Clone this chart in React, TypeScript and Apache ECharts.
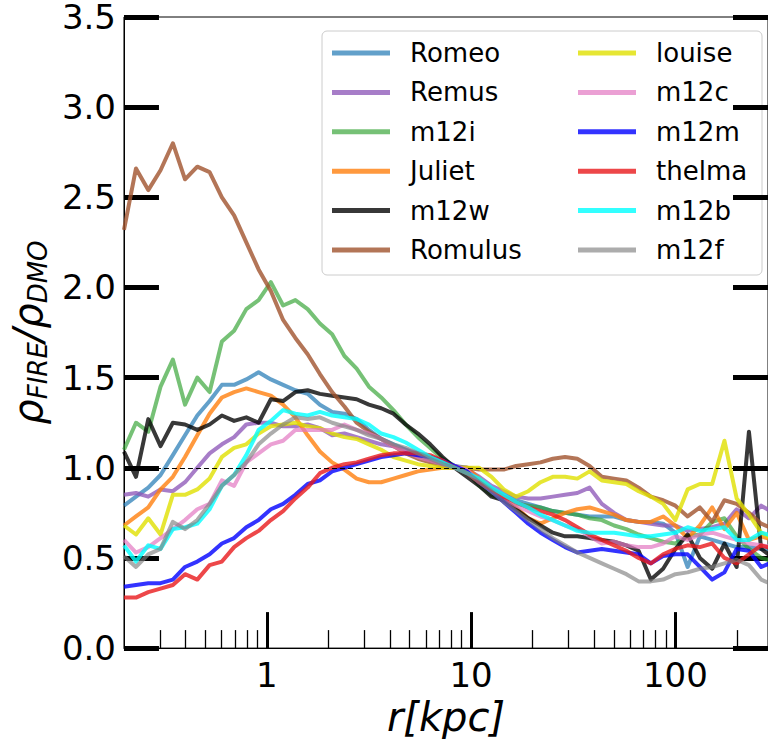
import React, { useEffect, useRef } from "react";
import * as echarts from "echarts";

// radius grid (kpc)
const R = [0.2, 0.229, 0.263, 0.302, 0.347, 0.398, 0.457, 0.525, 0.603, 0.692, 0.794, 0.912, 1.047, 1.202, 1.38, 1.585, 1.82, 2.089, 2.399, 2.754, 3.162, 3.631, 4.169, 4.786, 5.495, 6.31, 7.244, 8.318, 9.55, 10.96, 12.59, 14.45, 16.6, 19.05, 21.88, 25.12, 28.84, 33.11, 38.02, 43.65, 50.12, 57.54, 66.07, 75.86, 87.1, 100, 114.8, 131.8, 151.4, 173.8, 199.5, 229.1, 263, 302];

const ROMEO = [0.79, 0.84, 0.89, 0.96, 1.07, 1.18, 1.29, 1.37, 1.46, 1.46, 1.49, 1.53, 1.49, 1.46, 1.43, 1.41, 1.35, 1.31, 1.30, 1.27, 1.21, 1.16, 1.13, 1.10, 1.07, 1.04, 1.02, 1.01, 1.00, 0.93, 0.88, 0.85, 0.82, 0.80, 0.78, 0.76, 0.75, 0.74, 0.73, 0.73, 0.73, 0.71, 0.70, 0.70, 0.69, 0.64, 0.45, 0.62, 0.60, 0.58, 0.56, 0.56, 0.55, 0.55];
const REMUS = [0.85, 0.86, 0.84, 0.88, 0.87, 0.92, 1.00, 1.08, 1.13, 1.17, 1.24, 1.25, 1.25, 1.23, 1.23, 1.24, 1.22, 1.18, 1.19, 1.17, 1.15, 1.13, 1.12, 1.10, 1.08, 1.06, 1.04, 1.01, 0.99, 0.95, 0.90, 0.87, 0.84, 0.83, 0.83, 0.84, 0.85, 0.86, 0.89, 0.80, 0.75, 0.71, 0.70, 0.69, 0.68, 0.68, 0.65, 0.66, 0.67, 0.69, 0.77, 0.72, 0.79, 0.75];
const M12I = [1.10, 1.25, 1.20, 1.45, 1.60, 1.35, 1.50, 1.42, 1.70, 1.76, 1.88, 1.93, 2.03, 1.90, 1.93, 1.88, 1.80, 1.74, 1.62, 1.55, 1.45, 1.39, 1.32, 1.24, 1.17, 1.11, 1.05, 1.01, 0.98, 0.90, 0.85, 0.82, 0.80, 0.79, 0.78, 0.76, 0.75, 0.74, 0.72, 0.71, 0.68, 0.66, 0.63, 0.61, 0.59, 0.58, 0.62, 0.63, 0.70, 0.72, 0.62, 0.55, 0.50, 0.48];
const JULIET = [0.68, 0.73, 0.78, 0.88, 0.95, 1.06, 1.18, 1.30, 1.39, 1.42, 1.44, 1.42, 1.40, 1.35, 1.28, 1.18, 1.09, 1.03, 0.99, 0.94, 0.92, 0.92, 0.94, 0.96, 0.98, 0.99, 1.00, 1.00, 1.00, 0.94, 0.88, 0.83, 0.78, 0.72, 0.69, 0.72, 0.75, 0.77, 0.78, 0.76, 0.74, 0.71, 0.70, 0.70, 0.73, 0.68, 0.61, 0.68, 0.78, 0.66, 0.75, 0.60, 0.62, 0.60];
const M12W = [1.09, 0.95, 1.27, 1.12, 1.25, 1.24, 1.21, 1.24, 1.29, 1.26, 1.28, 1.25, 1.38, 1.37, 1.42, 1.43, 1.41, 1.40, 1.39, 1.38, 1.35, 1.33, 1.30, 1.24, 1.19, 1.13, 1.06, 1.00, 0.95, 0.90, 0.84, 0.82, 0.77, 0.72, 0.68, 0.64, 0.62, 0.62, 0.61, 0.60, 0.59, 0.57, 0.54, 0.38, 0.44, 0.55, 0.63, 0.50, 0.44, 0.58, 0.45, 1.20, 0.55, 0.50];
const ROMULUS = [2.32, 2.66, 2.54, 2.65, 2.80, 2.60, 2.67, 2.64, 2.50, 2.40, 2.25, 2.10, 1.98, 1.82, 1.72, 1.63, 1.52, 1.42, 1.34, 1.25, 1.20, 1.16, 1.12, 1.08, 1.05, 1.03, 1.01, 1.00, 1.00, 0.99, 0.99, 0.99, 1.01, 1.02, 1.03, 1.05, 1.06, 1.05, 1.01, 0.95, 0.94, 0.93, 0.89, 0.84, 0.82, 0.79, 0.73, 0.78, 0.70, 0.82, 0.80, 0.75, 0.69, 0.66];
const LOUISE = [0.68, 0.63, 0.72, 0.63, 0.85, 0.85, 0.88, 0.94, 1.06, 1.11, 1.13, 1.19, 1.23, 1.24, 1.25, 1.23, 1.22, 1.19, 1.17, 1.16, 1.13, 1.10, 1.06, 1.04, 1.02, 1.01, 1.00, 1.00, 1.00, 1.00, 0.95, 0.88, 0.84, 0.87, 0.92, 0.95, 0.95, 0.94, 0.98, 0.93, 0.92, 0.91, 0.87, 0.84, 0.80, 0.71, 0.88, 0.91, 0.91, 1.15, 0.83, 0.74, 0.64, 0.60];
const M12C = [0.60, 0.53, 0.56, 0.61, 0.66, 0.71, 0.77, 0.80, 0.93, 0.90, 1.03, 1.08, 1.13, 1.15, 1.21, 1.21, 1.21, 1.21, 1.24, 1.21, 1.19, 1.16, 1.12, 1.09, 1.06, 1.04, 1.02, 1.01, 0.99, 0.92, 0.87, 0.83, 0.79, 0.76, 0.73, 0.71, 0.68, 0.66, 0.62, 0.58, 0.59, 0.57, 0.56, 0.56, 0.58, 0.62, 0.60, 0.63, 0.64, 0.62, 0.60, 0.58, 0.57, 0.56];
const M12M = [0.34, 0.35, 0.36, 0.36, 0.38, 0.45, 0.48, 0.52, 0.58, 0.61, 0.67, 0.71, 0.77, 0.80, 0.85, 0.91, 0.93, 0.98, 1.00, 1.02, 1.04, 1.06, 1.07, 1.08, 1.07, 1.06, 1.04, 1.01, 0.98, 0.92, 0.87, 0.81, 0.75, 0.69, 0.64, 0.60, 0.56, 0.53, 0.54, 0.55, 0.54, 0.53, 0.52, 0.47, 0.51, 0.52, 0.52, 0.45, 0.38, 0.42, 0.55, 0.54, 0.45, 0.48];
const THELMA = [0.28, 0.28, 0.31, 0.33, 0.35, 0.41, 0.38, 0.46, 0.48, 0.56, 0.61, 0.65, 0.71, 0.76, 0.83, 0.89, 0.97, 1.00, 1.02, 1.03, 1.05, 1.07, 1.08, 1.08, 1.08, 1.07, 1.04, 1.00, 0.97, 0.92, 0.88, 0.84, 0.81, 0.78, 0.76, 0.74, 0.71, 0.67, 0.63, 0.60, 0.57, 0.54, 0.50, 0.47, 0.52, 0.55, 0.57, 0.56, 0.58, 0.50, 0.47, 0.52, 0.57, 0.55];
const M12B = [0.57, 0.48, 0.57, 0.55, 0.66, 0.67, 0.69, 0.77, 0.90, 0.96, 1.07, 1.21, 1.26, 1.32, 1.30, 1.29, 1.31, 1.29, 1.28, 1.27, 1.24, 1.19, 1.17, 1.14, 1.10, 1.06, 1.03, 1.00, 0.97, 0.94, 0.89, 0.85, 0.81, 0.78, 0.74, 0.71, 0.68, 0.65, 0.64, 0.64, 0.64, 0.63, 0.62, 0.62, 0.63, 0.64, 0.67, 0.65, 0.66, 0.67, 0.60, 0.60, 0.64, 0.62];
const M12F = [0.51, 0.45, 0.52, 0.55, 0.70, 0.66, 0.71, 0.80, 0.90, 0.96, 1.03, 1.13, 1.19, 1.24, 1.28, 1.27, 1.28, 1.25, 1.23, 1.21, 1.18, 1.16, 1.13, 1.11, 1.08, 1.05, 1.02, 1.00, 0.97, 0.92, 0.87, 0.81, 0.76, 0.71, 0.66, 0.61, 0.57, 0.53, 0.50, 0.47, 0.44, 0.41, 0.37, 0.37, 0.38, 0.41, 0.42, 0.44, 0.45, 0.47, 0.49, 0.46, 0.38, 0.35];

const NAMES = ["Romeo", "Remus", "m12i", "Juliet", "m12w", "Romulus", "louise", "m12c", "m12m", "thelma", "m12b", "m12f"];
const VALUES = [ROMEO, REMUS, M12I, JULIET, M12W, ROMULUS, LOUISE, M12C, M12M, THELMA, M12B, M12F];
const COLORS = ["#1f77b4", "#8e59b8", "#2ca02c", "#ff7f0e", "#000000", "#a0522d", "#e0e000", "#e377c2", "#0000ff", "#e8191c", "#00ffff", "#808080"];
const OPACITY = [0.7, 0.78, 0.65, 0.8, 0.78, 0.8, 0.8, 0.7, 0.8, 0.8, 0.8, 0.65];

const X_MAJOR = [1, 10, 100];
const X_MINOR = [0.3, 0.4, 0.5, 0.6, 0.7, 0.8, 0.9, 2, 3, 4, 5, 6, 7, 8, 9, 20, 30, 40, 50, 60, 70, 80, 90, 200];
const REF_LEVEL = 1;

export default function App() {
  const ref = useRef<HTMLDivElement>(null);

  useEffect(() => {
    const chart = echarts.init(ref.current!, null, { renderer: "svg" });
    const font = "DejaVu Sans";

    const series: any[] = NAMES.map((name, i) => ({
      name,
      type: "line",
      xAxisIndex: 0,
      yAxisIndex: 0,
      data: R.map((r, k) => [r, VALUES[i][k]]),
      showSymbol: false,
      symbol: "none",
      lineStyle: { color: COLORS[i], width: 4, opacity: OPACITY[i], join: "round" },
      itemStyle: { color: COLORS[i] },
      ...(i === 0
        ? {
            markLine: {
              silent: true,
              symbol: ["none", "none"],
              label: { show: false },
              lineStyle: { color: "#000", type: [5, 3], width: 1.2, opacity: 1 },
              data: [{ yAxis: REF_LEVEL }],
            },
          }
        : {}),
    }));

    // legend drawn as graphic
    const lx = 322, ly = 31, lw = 440, lh = 244;
    const legendEls: any[] = [
      {
        type: "rect",
        shape: { x: lx, y: ly, width: lw, height: lh, r: 5 },
        style: { fill: "rgba(255,255,255,0.8)", stroke: "#cccccc", lineWidth: 1 },
      },
    ];
    NAMES.forEach((name, i) => {
      const col = i < 6 ? 0 : 1;
      const row = i % 6;
      const y = 53 + row * 39.4;
      const x0 = col === 0 ? 332 : 578;
      legendEls.push({
        type: "line",
        shape: { x1: x0, y1: y, x2: x0 + 58, y2: y },
        style: { stroke: COLORS[i], lineWidth: 5, opacity: OPACITY[i] },
      });
      legendEls.push({
        type: "text",
        x: x0 + 78,
        y: y,
        style: { text: name, fontSize: 26, fontFamily: font, fill: "#000", verticalAlign: "middle" },
      });
    });

    chart.setOption({
      animation: false,
      backgroundColor: "#ffffff",
      grid: { left: 121, top: 17, right: -8, bottom: 89, show: true, borderColor: "#000", borderWidth: 1, backgroundColor: "transparent" },
      xAxis: [
        {
          type: "log",
          min: 0.2,
          max: 284,
          position: "bottom",
          axisLine: { show: true, lineStyle: { color: "#000", width: 1 } },
          axisTick: { show: true, inside: true, length: 36, customValues: X_MAJOR, lineStyle: { color: "#000", width: 3 } },
          axisLabel: { show: true, customValues: X_MAJOR, fontSize: 34, fontFamily: font, color: "#000", margin: 10, formatter: (v: number) => String(v) },
          splitLine: { show: false },
          minorTick: { show: false },
          name: "r[kpc]",
          nameLocation: "middle",
          nameGap: 44,
          nameTextStyle: { fontSize: 40, fontStyle: "italic", fontFamily: font, color: "#000" },
        },
        {
          type: "log",
          min: 0.2,
          max: 284,
          position: "bottom",
          axisLine: { show: false },
          axisTick: { show: true, inside: true, length: 18, customValues: X_MINOR, lineStyle: { color: "#000", width: 1.3 } },
          axisLabel: { show: false },
          splitLine: { show: false },
        },
      ],
      yAxis: [
        {
          type: "value",
          min: 0,
          max: 3.5,
          interval: 0.5,
          position: "left",
          axisLine: { show: true, lineStyle: { color: "#000", width: 1 } },
          axisTick: { show: true, inside: true, length: 35, lineStyle: { color: "#000", width: 5 } },
          axisLabel: { fontSize: 34, fontFamily: font, color: "#000", margin: 8, formatter: (v: number) => v.toFixed(1) },
          splitLine: { show: false },
          name: "{r|ρ}{s|FIRE}{r|/ρ}{s|DMO}",
          nameLocation: "middle",
          nameGap: 60,
          nameTextStyle: {
            color: "#000",
            rich: {
              r: { fontSize: 40, fontStyle: "italic", fontFamily: font, color: "#000", lineHeight: 46 },
              s: { fontSize: 26, fontStyle: "italic", fontFamily: font, color: "#000", verticalAlign: "bottom", lineHeight: 30 },
            },
          },
        },
        {
          type: "value",
          min: 0,
          max: 3.5,
          interval: 0.5,
          position: "right",
          axisLine: { show: false },
          axisTick: { show: true, inside: true, length: 35, lineStyle: { color: "#000", width: 5 } },
          axisLabel: { show: false },
          splitLine: { show: false },
        },
      ],
      series,
      graphic: { elements: [{ type: "group", z: 100, children: legendEls }] },
    });

    return () => chart.dispose();
  }, []);

  return <div ref={ref} style={{ position: "absolute", left: 0, top: 0, width: 768, height: 742 }} />;
}
